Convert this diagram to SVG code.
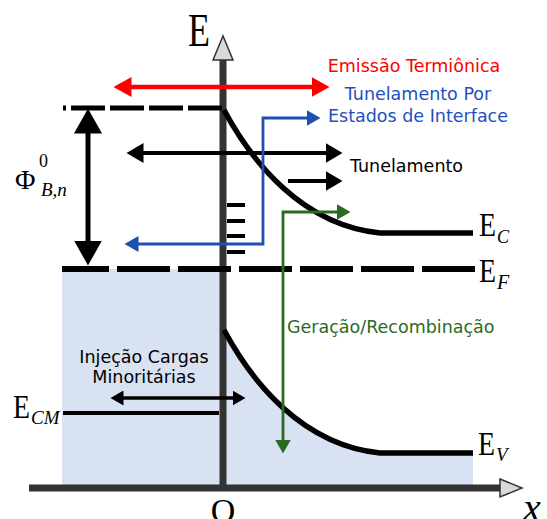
<svg xmlns="http://www.w3.org/2000/svg" width="547" height="519" viewBox="0 0 547 519">
<defs>
<style>
.sans{font-family:"DejaVu Sans","Verdana",sans-serif;font-size:17.5px}
.serif{font-family:"Liberation Serif","Times New Roman",serif}
.it{font-style:italic}
.band{fill:none;stroke:#000;stroke-width:5.5}
.axis{stroke:#333;stroke-width:7;fill:none}
.axhead{fill:#d9d9d9;stroke:#333;stroke-width:1.5}
</style>
<marker id="hRed" markerUnits="userSpaceOnUse" markerWidth="19" markerHeight="20" refX="0.5" refY="10" orient="auto-start-reverse"><path d="M0,0 L18,10 L0,20 z" fill="#ff0000"/></marker>
<marker id="hBlk" markerUnits="userSpaceOnUse" markerWidth="18" markerHeight="20" refX="0.5" refY="10" orient="auto-start-reverse"><path d="M0,0 L17,10 L0,20 z" fill="#000"/></marker>
<marker id="hBig" markerUnits="userSpaceOnUse" markerWidth="26" markerHeight="28" refX="0.5" refY="14" orient="auto-start-reverse"><path d="M0,0 L25,14 L0,28 z" fill="#000"/></marker>
<marker id="hBlue" markerUnits="userSpaceOnUse" markerWidth="15" markerHeight="16" refX="0.5" refY="8" orient="auto-start-reverse"><path d="M0,0 L14,8 L0,16 z" fill="#1f4fb0"/></marker>
<marker id="hGreen" markerUnits="userSpaceOnUse" markerWidth="15" markerHeight="16" refX="0.5" refY="8" orient="auto-start-reverse"><path d="M0,0 L14,8 L0,16 z" fill="#2a6a24"/></marker>
<marker id="hInj" markerUnits="userSpaceOnUse" markerWidth="14" markerHeight="15" refX="0.5" refY="7.5" orient="auto-start-reverse"><path d="M0,0 L13,7.5 L0,15 z" fill="#000"/></marker>
</defs>

<g id="semiconductor-fill">
<path d="M62,269 L223,269 L223,330 C252,382 302,445 379,453 L473,453 L473,485 L62,485 z" fill="#d9e2f3"/>
</g>

<g id="axes">
<path class="axis" d="M223,488 L223,60"/>
<polygon class="axhead" points="213,60 223,36 233,60"/>
<path class="axis" d="M29,488 L500,488"/>
<polygon class="axhead" points="500,479 522,488 500,497"/>
<text class="serif" x="188" y="46" font-size="46" textLength="22" lengthAdjust="spacingAndGlyphs">E</text>
<text class="serif" x="223" y="522" font-size="34" text-anchor="middle">O</text>
<text class="serif it" x="523" y="521" font-size="40">x</text>
</g>

<g id="levels">
<path d="M222,108 L63,108" stroke="#000" stroke-width="5" stroke-dasharray="34 5" fill="none"/>
<path d="M475,269 L62,269" stroke="#000" stroke-width="6" stroke-dasharray="53 8" fill="none"/>
<path class="band" d="M224,110 C252,162 302,225 380,233 L473,233"/>
<path class="band" d="M224,330 C252,382 302,445 380,453 L473,453"/>
<path d="M63,413 L219,413" stroke="#000" stroke-width="4"/>
<g id="interface-states" stroke="#000" stroke-width="4">
<path d="M227,205 L245,205"/><path d="M227,221 L245,221"/><path d="M227,236 L245,236"/><path d="M227,252 L245,252"/>
</g>
</g>

<g id="connectors" fill="none">
<path d="M131,87 L312,87" stroke="#ff0000" stroke-width="4.5" marker-start="url(#hRed)" marker-end="url(#hRed)"/>
<path d="M143,153 L326,153" stroke="#000" stroke-width="4" marker-start="url(#hBlk)" marker-end="url(#hBlk)"/>
<path d="M288,181 L326,181" stroke="#000" stroke-width="4" marker-end="url(#hBlk)"/>
<path d="M88,133 L88,241" stroke="#000" stroke-width="5" marker-start="url(#hBig)" marker-end="url(#hBig)"/>
<path d="M138,244 L263,244 L263,118 L307,118" stroke="#1f4fb0" stroke-width="2.8" marker-start="url(#hBlue)" marker-end="url(#hBlue)"/>
<path d="M337,212 L283,212 L283,440" stroke="#2a6a24" stroke-width="2.8" marker-start="url(#hGreen)" marker-end="url(#hGreen)"/>
<path d="M123,398 L233,398" stroke="#000" stroke-width="3.5" marker-start="url(#hInj)" marker-end="url(#hInj)"/>
</g>

<g id="labels">
<text class="sans" x="414" y="72" text-anchor="middle" fill="#ff0000">Emissão Termiônica</text>
<text class="sans" x="418" y="100" text-anchor="middle" fill="#1f4fbf">Tunelamento Por</text>
<text class="sans" x="418" y="122" text-anchor="middle" fill="#1f4fbf">Estados de Interface</text>
<text class="sans" x="350" y="172" fill="#000">Tunelamento</text>
<text class="sans" x="287" y="333" fill="#2a6a24">Geração/Recombinação</text>
<text class="sans" x="144" y="363" text-anchor="middle" fill="#000">Injeção Cargas</text>
<text class="sans" x="144" y="383" text-anchor="middle" fill="#000">Minoritárias</text>

<text class="serif" x="479" y="236" font-size="33" textLength="17" lengthAdjust="spacingAndGlyphs">E</text>
<text class="serif it" x="497" y="243" font-size="18">C</text>
<text class="serif" x="479" y="282" font-size="33" textLength="17" lengthAdjust="spacingAndGlyphs">E</text>
<text class="serif it" x="497" y="289" font-size="20">F</text>
<text class="serif" x="478" y="455" font-size="33" textLength="17" lengthAdjust="spacingAndGlyphs">E</text>
<text class="serif it" x="496" y="461" font-size="19">V</text>
<text class="serif" x="13" y="418" font-size="33" textLength="17" lengthAdjust="spacingAndGlyphs">E</text>
<text class="serif it" x="31" y="424" font-size="19">CM</text>

<text class="serif" x="15" y="189" font-size="28">Φ</text>
<text class="serif" x="39" y="167" font-size="18">0</text>
<text class="serif it" x="41" y="196" font-size="19">B,n</text>
</g>
</svg>
